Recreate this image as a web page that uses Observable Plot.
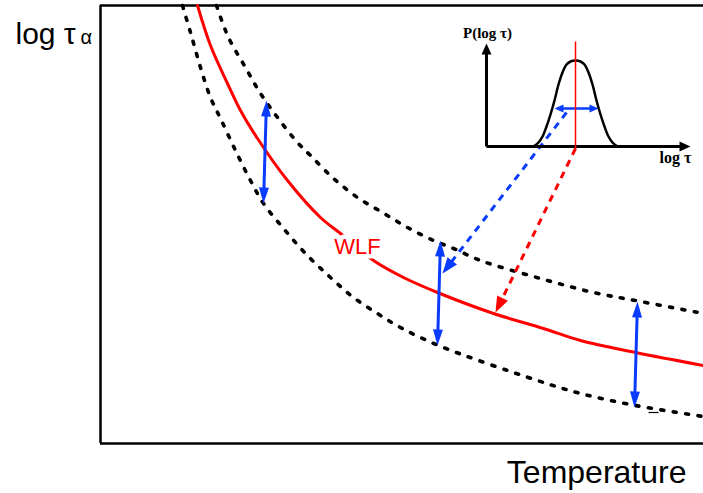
<!DOCTYPE html>
<html><head><meta charset="utf-8">
<script src="https://cdn.jsdelivr.net/npm/d3@7"></script>
<script src="https://cdn.jsdelivr.net/npm/@observablehq/plot@0.6"></script>
<style>body{margin:0;background:#fff} #chart svg{display:block;background:#fff}</style>
</head><body><div id="chart"></div>
<script>
// Main curves (temperature, log tau) in arbitrary units
const wlfTemp   = [97,110,127,140,157,187,220,240,273,303,337,393,443,480,535,603];
const wlfLogTau = [438,398,360,333,305,263,226,210,183,166,151,130,115,103,91,78];
const upperTemp   = [116,128,145,160,177,197,210,232,257,282,307,333,353,380,440,493,540,603];
const upperLogTau = [438,406,376,350,326,301,288,266,246,231,216,203,195,183,165,151,142,130];
const lowerTemp   = [82,90,100,110,120,135,150,163,183,205,230,253,277,300,338,437,480,535,603];
const lowerLogTau = [438,411,376,346,325,293,263,240,215,190,166,146,130,116,98,63,50,38,27];

// Blue width arrows (top and bottom ends)
const arrowTopTemp = [166,340,537];
const arrowTopLog  = [343,203,142];
const arrowBotTemp = [163,337,534];
const arrowBotLog  = [240,98,36];

// Dashed arrows from inset to curves
const blueDashFrom = [466,331], blueDashTo = [342,170];
const redDashFrom  = [475,295], redDashTo  = [395,131];

// Inset distribution P(log tau)
const insetOrigin = [386,297];
const insetYTop = 400;
const insetXEnd = 590;
const distLogTau = [433,438,442,446,450,454,458,462,466,470,475,480,484,488,492,496,500,504,508,512,517];
const distP      = [297,301,307,317,329,343,359,371,379,382,383,382,379,371,359,343,329,317,307,301,297];
const peakT = 475, peakLine = [294,402];
const halfWidthY = 335, halfWidth = [454,498];

// Labels
const labels = {
  yMain: "log τ", ySub: "α", x: "Temperature", wlf: "WLF",
  insetY: "P(log τ)", insetX: "log τ"
};

const BLUE = "#0a3cff", RED = "#ff0000";

function pts(xs, ys) { return xs.map((x, i) => ({x, y: ys[i]})); }
// arrowhead polygon (data units are 1px on both axes)
function head(tip, from, len, hw, id) {
  const dx = tip[0]-from[0], dy = tip[1]-from[1], L = Math.hypot(dx, dy);
  const ux = dx/L, uy = dy/L, bx = tip[0]-ux*len, by = tip[1]-uy*len;
  return [
    {x: tip[0], y: tip[1], id},
    {x: bx - uy*hw, y: by + ux*hw, id},
    {x: bx + uy*hw, y: by - ux*hw, id}
  ];
}
function back(tip, from, d) {
  const dx = tip[0]-from[0], dy = tip[1]-from[1], L = Math.hypot(dx, dy);
  return [tip[0]-dx/L*d, tip[1]-dy/L*d];
}

const blueShafts = [], blueHeads = [];
arrowTopTemp.forEach((t, i) => {
  const a = [t, arrowTopLog[i]], b = [arrowBotTemp[i], arrowBotLog[i]];
  const s1 = back(a, b, 13), s2 = back(b, a, 13);
  blueShafts.push({x1: s1[0], y1: s1[1], x2: s2[0], y2: s2[1]});
  blueHeads.push(...head(a, b, 16, 5, "t"+i), ...head(b, a, 16, 5, "b"+i));
});
{
  const a = [halfWidth[0], halfWidthY], b = [halfWidth[1], halfWidthY];
  const s1 = back(a, b, 6), s2 = back(b, a, 6);
  blueShafts.push({x1: s1[0], y1: s1[1], x2: s2[0], y2: s2[1], w: 2.5});
  blueHeads.push(...head(a, b, 9, 4, "hl"), ...head(b, a, 9, 4, "hr"));
}
const blueDashEnd = back(blueDashTo, blueDashFrom, 10);
const redDashEnd = back(redDashTo, redDashFrom, 10);
const dashHeadsBlue = head(blueDashTo, blueDashFrom, 16, 6, "bd");
const dashHeadsRed = head(redDashTo, redDashFrom, 16, 6, "rd");
const insetHeads = [
  ...head([insetOrigin[0], insetYTop], insetOrigin, 11, 5, "iy"),
  ...head([insetXEnd, insetOrigin[1]], insetOrigin, 11, 5, "ix")
];

const sans = "Liberation Sans, Arial, sans-serif";
const serif = "Liberation Serif, Times New Roman, serif";

const chart = Plot.plot({
  width: 703, height: 493,
  marginLeft: 100, marginRight: 0, marginTop: 5, marginBottom: 50,
  x: {domain: [0, 603], axis: null},
  y: {domain: [0, 438], axis: null},
  style: {background: "#fff", overflow: "visible"},
  marks: [
    Plot.ruleY([0, 438], {stroke: "black", strokeWidth: 2.5}),
    Plot.ruleX([0], {stroke: "black", strokeWidth: 2.5}),
    Plot.line(pts(upperTemp, upperLogTau), {x: "x", y: "y", curve: "catmull-rom", stroke: "black", strokeWidth: 3.6, strokeDasharray: "3,9.5", strokeLinecap: "round"}),
    Plot.line(pts(lowerTemp, lowerLogTau), {x: "x", y: "y", curve: "catmull-rom", stroke: "black", strokeWidth: 3.6, strokeDasharray: "3,9.5", strokeLinecap: "round"}),
    Plot.line(pts(wlfTemp, wlfLogTau), {x: "x", y: "y", curve: "catmull-rom", stroke: RED, strokeWidth: 3}),
    Plot.text([labels.wlf], {x: 257, y: 197, text: d => d, fill: RED, fontSize: 22, fontFamily: sans, stroke: "white", strokeWidth: 9, paintOrder: "stroke", strokeLinejoin: "round"}),
    Plot.link([{x1: 548, x2: 558, y: 31}], {x1: "x1", x2: "x2", y1: "y", y2: "y", stroke: "black", strokeWidth: 1.2}),
    Plot.link([{x1: blueDashFrom[0], y1: blueDashFrom[1], x2: blueDashEnd[0], y2: blueDashEnd[1]}], {x1: "x1", y1: "y1", x2: "x2", y2: "y2", stroke: BLUE, strokeWidth: 3, strokeDasharray: "7,6"}),
    Plot.line(dashHeadsBlue, {x: "x", y: "y", z: "id", fill: BLUE, stroke: "none"}),
    Plot.link([{x1: redDashFrom[0], y1: redDashFrom[1], x2: redDashEnd[0], y2: redDashEnd[1]}], {x1: "x1", y1: "y1", x2: "x2", y2: "y2", stroke: RED, strokeWidth: 3, strokeDasharray: "7,6"}),
    Plot.line(dashHeadsRed, {x: "x", y: "y", z: "id", fill: RED, stroke: "none"}),
    Plot.link(blueShafts, {x1: "x1", y1: "y1", x2: "x2", y2: "y2", stroke: BLUE, strokeWidth: d => d.w || 3}),
    Plot.line(blueHeads, {x: "x", y: "y", z: "id", fill: BLUE, stroke: "none"}),
    Plot.line(pts(distLogTau, distP), {x: "x", y: "y", curve: "catmull-rom", stroke: "black", strokeWidth: 2.5}),
    Plot.link([{x1: insetOrigin[0], y1: insetOrigin[1], x2: insetOrigin[0], y2: insetYTop - 9},
               {x1: insetOrigin[0], y1: insetOrigin[1], x2: insetXEnd - 9, y2: insetOrigin[1]}],
      {x1: "x1", y1: "y1", x2: "x2", y2: "y2", stroke: "black", strokeWidth: 3}),
    Plot.line(insetHeads, {x: "x", y: "y", z: "id", fill: "black", stroke: "none"}),
    Plot.link([{x: peakT, y1: peakLine[0], y2: peakLine[1]}], {x1: "x", x2: "x", y1: "y1", y2: "y2", stroke: RED, strokeWidth: 1.5}),
    Plot.text([labels.insetY], {x: 387, y: 410, text: d => d, fontFamily: serif, fontWeight: "bold", fontSize: 15, fill: "black"}),
    Plot.text([labels.insetX], {x: 575, y: 286, text: d => d, fontFamily: serif, fontWeight: "bold", fontSize: 16, fill: "black"}),
    Plot.text([labels.yMain], {x: -85, y: 409.6, text: d => d, textAnchor: "start", fontFamily: sans, fontSize: 30, fill: "black"}),
    Plot.text([labels.ySub], {x: -20, y: 406.4, text: d => d, textAnchor: "start", fontFamily: sans, fontSize: 20, fill: "black"}),
    Plot.text([labels.x], {x: 586, y: -29, text: d => d, textAnchor: "end", fontFamily: sans, fontSize: 32, fill: "black"})
  ]
});
document.getElementById("chart").appendChild(chart);
</script>
</body></html>
